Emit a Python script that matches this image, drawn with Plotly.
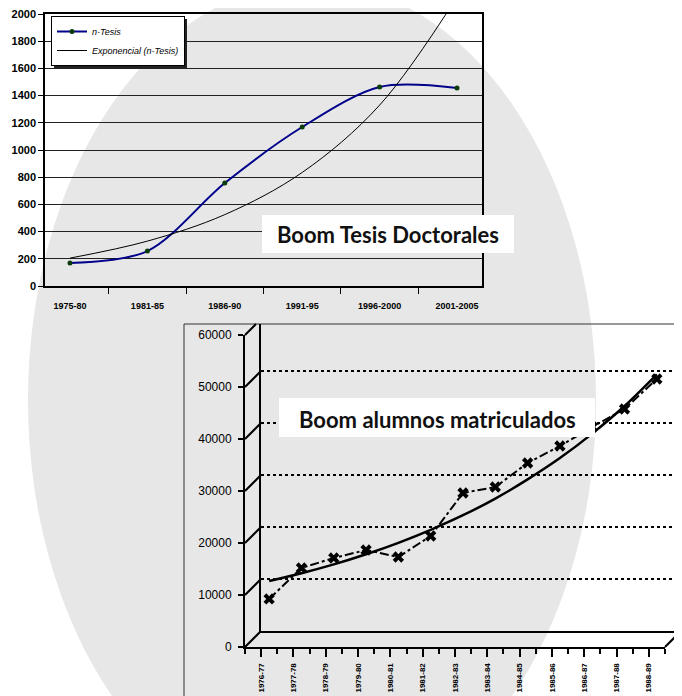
import plotly.graph_objects as go

W, H = 682, 696
OX, OY = 8, 8  # the page body has an 8px margin

# ---------------- data ----------------
periods = ["1975-80", "1981-85", "1986-90", "1991-95", "1996-2000", "2001-2005"]
n_tesis = [170, 257, 757, 1169, 1463, 1456]
exp_tesis = [205, 330, 525, 835, 1330, 2125]

cursos = ["1976-77", "1977-78", "1978-79", "1979-80", "1980-81", "1981-82", "1982-83",
          "1983-84", "1984-85", "1985-86", "1986-87", "1987-88", "1988-89"]
alumnos = [7700, 13650, 15580, 17115, 15770, 19810, 28080, 29230, 33850, 37115, 40770, 44230, 50000]
tend_alumnos = [11150, 12650, 14350, 16300, 18500, 21000, 23800, 27000, 30700, 34800, 39500, 44800, 50900]

tesis_ticks = list(range(0, 2001, 200))
alum_ticks = list(range(0, 60001, 10000))

NARROW = "Liberation Sans Narrow, Arial Narrow, Liberation Sans, Arial, sans-serif"
SANS = "Liberation Sans, Arial, sans-serif"
TITLE_FONT = "Lato, Open Sans, sans-serif"


def px(x):
    return (x - OX) / W


def py(y):
    return 1 - (y - OY) / H


fig = go.Figure()

# ---------------- top chart ----------------
fig.add_trace(go.Scatter(
    x=periods, y=n_tesis, name="<i>n-Tesis</i>", mode="lines+markers",
    line=dict(color="#00008b", width=2, shape="spline", smoothing=0.9),
    marker=dict(size=5, color="#0b3d0b", symbol="circle"),
    xaxis="x", yaxis="y"))
fig.add_trace(go.Scatter(
    x=periods, y=exp_tesis, name="<i>Exponencial (n-Tesis)</i>", mode="lines",
    line=dict(color="black", width=1, shape="spline"),
    xaxis="x", yaxis="y"))

# ---------------- bottom chart (pseudo-3D) ----------------
fig.add_trace(go.Scatter(x=[], y=[], xaxis="x2", yaxis="y2", showlegend=False, hoverinfo="skip"))
fig.add_trace(go.Scatter(x=[], y=[], xaxis="x4", yaxis="y4", showlegend=False, hoverinfo="skip"))
fig.add_trace(go.Scatter(
    x=cursos, y=tend_alumnos, mode="lines", showlegend=False,
    line=dict(color="black", width=2.5, shape="spline"),
    xaxis="x3", yaxis="y3"))
fig.add_trace(go.Scatter(
    x=cursos, y=alumnos, mode="lines+markers", showlegend=False,
    line=dict(color="black", width=2, dash="dashdot"),
    marker=dict(symbol="x", size=10, color="black"),
    xaxis="x3", yaxis="y3"))

axis_common = dict(linecolor="black", zeroline=False, automargin=False)

fig.update_layout(
    template="none",
    width=W, height=H,
    margin=dict(l=0, r=0, t=0, b=0, pad=0),
    paper_bgcolor="white",
    plot_bgcolor="rgba(0,0,0,0)",
    showlegend=True,
    font=dict(family=SANS, color="black"),
    legend=dict(x=px(51), y=py(16), xanchor="left", yanchor="top",
                bgcolor="white", bordercolor="black", borderwidth=1,
                font=dict(family=SANS, size=9, color="black"),
                tracegroupgap=0, itemwidth=30),
    xaxis=dict(domain=[px(45), px(482)], anchor="y", type="category",
               tickson="boundaries", ticks="outside", ticklen=6, tickcolor="black",
               showline=True, linewidth=1.5, mirror=True, showgrid=False,
               tickfont=dict(family=NARROW, size=9, color="black", weight="bold"),
               ticklabelstandoff=10, **axis_common),
    yaxis=dict(domain=[py(286), py(14)], anchor="x", range=[0, 2000],
               tickvals=tesis_ticks, ticks="outside", ticklen=5, tickcolor="black",
               showline=True, linewidth=1.5, mirror=True, ticklabeloverflow="allow",
               showgrid=True, gridcolor="#222", gridwidth=1,
               tickfont=dict(family=NARROW, size=11, color="black", weight="bold"),
               ticklabelstandoff=0, **axis_common),
    # front frame (labels)
    xaxis2=dict(domain=[px(245), px(665)], anchor="y2", range=[-0.5, 12.5],
                tickvals=list(range(len(cursos))), ticktext=cursos, tickangle=-90,
                ticks="outside", ticklen=8, tickwidth=2, tickcolor="black",
                minor=dict(ticks="outside", ticklen=5, tickwidth=1.5, dtick=0.5, tick0=-0.5,
                           tickcolor="black", showgrid=False),
                showline=True, linewidth=2, showgrid=False, ticklabeloverflow="allow",
                tickfont=dict(family=NARROW, size=8, color="black", weight="bold"),
                ticklabelstandoff=3, **axis_common),
    yaxis2=dict(domain=[py(647), py(335)], anchor="x2", range=[0, 60000],
                tickvals=alum_ticks, tickformat="d", ticks="outside", ticklen=5, tickwidth=2,
                tickcolor="black", showline=True, linewidth=2, showgrid=False,
                tickfont=dict(family=SANS, size=12, color="black"),
                ticklabelstandoff=4, **axis_common),
    # mid-depth frame (data)
    xaxis3=dict(domain=[px(253), px(673)], anchor="y3", type="category",
                categoryorder="array", categoryarray=cursos, range=[-0.5, 12.5],
                visible=False, automargin=False),
    yaxis3=dict(domain=[py(639), py(327)], anchor="x3", range=[0, 60000],
                visible=False, automargin=False),
    # back wall frame
    xaxis4=dict(domain=[px(261), px(681)], anchor="y4", range=[-0.5, 12.5],
                showline=True, linewidth=2, showticklabels=False, ticks="",
                showgrid=False, **axis_common),
    yaxis4=dict(domain=[py(631), py(324.2)], anchor="x4", range=[0, 59000],
                tickvals=alum_ticks[1:6], showticklabels=False, ticks="",
                showline=True, linewidth=2, showgrid=True, gridcolor="black",
                gridwidth=2, griddash="dot", **axis_common),
)

shapes = []
# background ellipse
shapes.append(dict(type="circle", xref="paper", yref="paper",
                   x0=px(28), x1=px(596), y0=py(817), y1=py(-17),
                   fillcolor="#e7e7e7", line=dict(width=0), layer="below"))
# bottom chart frame
shapes.append(dict(type="rect", xref="paper", yref="paper",
                   x0=px(184), x1=px(720), y0=py(740), y1=py(324),
                   line=dict(color="#333", width=1), fillcolor="rgba(0,0,0,0)", layer="below"))
# left wall depth lines
for k in range(7):
    yf = 647 - 52 * k
    yb = 631 - 52 * k
    xb = 261
    if yb < 324:
        xb = 245 + (yf - 324)
        yb = 324
    shapes.append(dict(type="line", xref="paper", yref="paper",
                       x0=px(245), y0=py(yf), x1=px(xb), y1=py(yb),
                       line=dict(color="black", width=2), layer="above"))
# right floor depth line
shapes.append(dict(type="line", xref="paper", yref="paper",
                   x0=px(665), y0=py(647), x1=px(681), y1=py(631),
                   line=dict(color="black", width=2), layer="above"))
# legend shadow
shapes.append(dict(type="rect", xref="paper", yref="paper",
                   x0=px(54), x1=px(187), y0=py(69), y1=py(19),
                   fillcolor="#222", line=dict(width=0), layer="above"))
# white title boxes
shapes.append(dict(type="rect", xref="paper", yref="paper",
                   x0=px(262), x1=px(514), y0=py(253), y1=py(215),
                   fillcolor="white", line=dict(width=0), layer="above"))
shapes.append(dict(type="rect", xref="paper", yref="paper",
                   x0=px(279), x1=px(595), y0=py(437), y1=py(398),
                   fillcolor="white", line=dict(width=0), layer="above"))
fig.update_layout(shapes=shapes)

fig.add_annotation(x=px(388), y=py(235), xref="paper", yref="paper",
                   xanchor="center", yanchor="middle",
                   text="<b>Boom Tesis Doctorales</b>", showarrow=False,
                   font=dict(family=TITLE_FONT, size=22, color="#111"))
fig.add_annotation(x=px(437), y=py(419), xref="paper", yref="paper",
                   xanchor="center", yanchor="middle",
                   text="<b>Boom alumnos matriculados</b>", showarrow=False,
                   font=dict(family=TITLE_FONT, size=22, color="#111"))

fig.write_html("out.html")
